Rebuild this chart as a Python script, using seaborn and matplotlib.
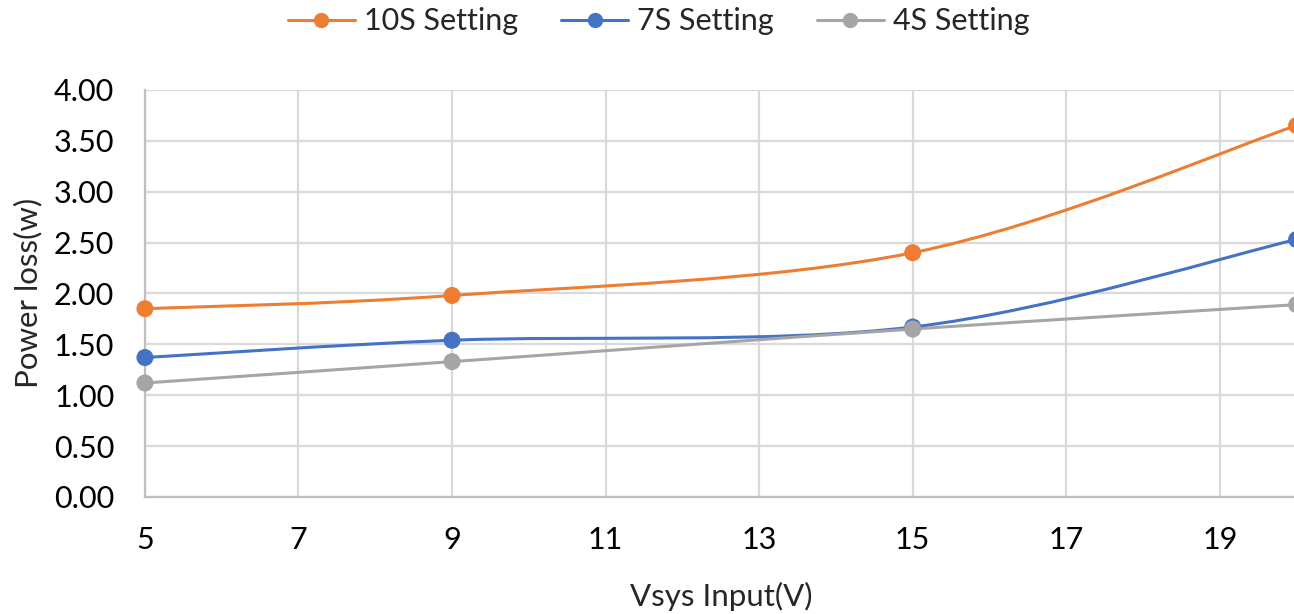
import numpy as np
import pandas as pd
import matplotlib
matplotlib.use("Agg")
import matplotlib.pyplot as plt
from matplotlib.path import Path
from matplotlib.patches import PathPatch
from matplotlib.lines import Line2D
import seaborn as sns

vsys = [5, 9, 15, 20]
loss_10s = [1.85, 1.98, 2.40, 3.65]
loss_7s = [1.37, 1.54, 1.67, 2.53]
loss_4s = [1.12, 1.33, 1.65, 1.89]
series_names = ["10S Setting", "7S Setting", "4S Setting"]
colors = ["#ED7D31", "#4472C4", "#A5A5A5"]
x_ticks = [5, 7, 9, 11, 13, 15, 17, 19]
y_ticks = [0.0, 0.5, 1.0, 1.5, 2.0, 2.5, 3.0, 3.5, 4.0]

sns.set_theme(style="white")
plt.rcParams['font.family'] = ['Lato', 'DejaVu Sans']

df = pd.DataFrame({
    "Vsys": vsys * 3,
    "Loss": loss_10s + loss_7s + loss_4s,
    "Series": [series_names[0]] * 4 + [series_names[1]] * 4 + [series_names[2]] * 4,
})

fig = plt.figure(figsize=(12.94, 6.14), dpi=100)
ax = fig.add_axes([0.112, 0.1906, 0.890, 0.663])


def smooth_path(xs, ys):
    pts = np.column_stack([xs, ys]).astype(float)
    n = len(pts)
    verts = [pts[0]]
    codes = [Path.MOVETO]
    for i in range(n - 1):
        p0 = pts[i - 1] if i > 0 else pts[i]
        p1 = pts[i]
        p2 = pts[i + 1]
        p3 = pts[i + 2] if i + 2 < n else pts[i + 1]
        c1 = p1 + (p2 - p0) / 6.0
        c2 = p2 - (p3 - p1) / 6.0
        verts += [c1, c2, p2]
        codes += [Path.CURVE4] * 3
    return Path(verts, codes)


for name, col in zip(series_names, colors):
    sub = df[df["Series"] == name]
    patch = PathPatch(smooth_path(sub["Vsys"].values, sub["Loss"].values),
                      facecolor="none", edgecolor=col, lw=2.2, zorder=3,
                      clip_on=False)
    ax.add_patch(patch)

sns.scatterplot(data=df, x="Vsys", y="Loss", hue="Series", palette=colors,
                s=150, edgecolor="none", ax=ax, zorder=4, clip_on=False,
                legend=False)

ax.set_xlim(5, 20)
ax.set_ylim(0, 4)
ax.set_xticks(x_ticks)
ax.set_yticks(y_ticks)
ax.set_yticklabels([f"{v:.2f}" for v in y_ticks])
ax.grid(True, color="#d9d9d9", lw=1.6)
ax.set_axisbelow(True)
for s in ["top", "right"]:
    ax.spines[s].set_visible(False)
ax.spines["left"].set_color("#bfbfbf")
ax.spines["bottom"].set_color("#bfbfbf")
ax.spines["left"].set_linewidth(1.6)
ax.spines["bottom"].set_linewidth(1.6)
ax.tick_params(axis="both", labelsize=22, colors="#000000", length=0)
ax.tick_params(axis="x", pad=21)
ax.tick_params(axis="y", pad=22)
ax.set_xlabel("Vsys Input(V)", fontsize=22.5, labelpad=20)
ax.set_ylabel("Power loss(w)", fontsize=22.5, labelpad=8)

handles = [Line2D([0], [0], color=c, lw=2.2, marker="o", markersize=10)
           for c in colors]
fig.legend(handles, series_names, loc="center", ncol=3,
           bbox_to_anchor=(0.509, 0.965), frameon=False, fontsize=22,
           handlelength=2.2, columnspacing=1.4, handletextpad=0.3)

fig.savefig("out.png", dpi=100)
